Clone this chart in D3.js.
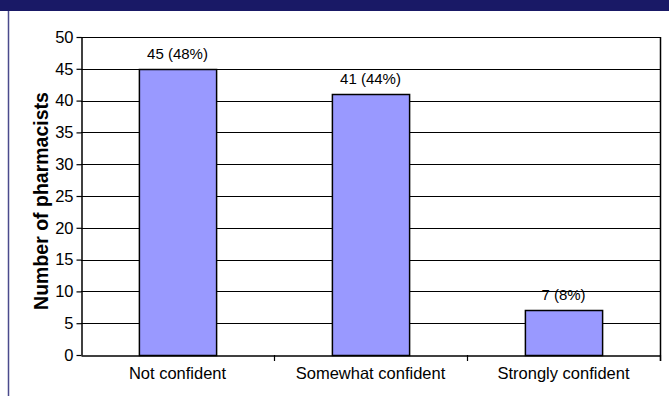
<!DOCTYPE html>
<html>
<head>
<meta charset="utf-8">
<script src="https://cdn.jsdelivr.net/npm/d3@7"></script>
<style>
  html, body { margin: 0; padding: 0; background: #fff; }
  svg { display: block; font-family: Arial, "Liberation Sans", sans-serif; }
</style>
</head>
<body>
<svg id="chart" width="669" height="396"></svg>
<script>
// Confidence levels reported by pharmacists
const categories = ["Not confident", "Somewhat confident", "Strongly confident"];
const counts = [45, 41, 7];
const percents = ["48%", "44%", "8%"];
const yTicks = [0, 5, 10, 15, 20, 25, 30, 35, 40, 45, 50];
const yTitle = "Number of pharmacists";

const svg = d3.select("#chart");
const W = 669, H = 396;
const plot = { left: 81, right: 660, top: 37, bottom: 355 };
const FONT = "Arial, 'Liberation Sans', sans-serif";

// Header banner and left frame line
svg.append("rect").attr("x", 0).attr("y", 0).attr("width", W).attr("height", 11)
  .attr("fill", "#191966");
svg.append("line").attr("x1", 8.5).attr("x2", 8.5).attr("y1", 11).attr("y2", H)
  .attr("stroke", "#4a4a8c").attr("stroke-width", 1.5);

const x = d3.scaleBand().domain(categories).range([plot.left, plot.right])
  .paddingInner(0.6).paddingOuter(0.3);
const xOuter = d3.scaleBand().domain(categories).range([plot.left, plot.right]);
const y = d3.scaleLinear().domain([0, 50]).range([plot.bottom, plot.top]);

// Horizontal gridlines
svg.append("g").selectAll("line").data(yTicks.filter(d => d > 0)).join("line")
  .attr("x1", plot.left).attr("x2", plot.right)
  .attr("y1", d => Math.round(y(d)) + 0.5).attr("y2", d => Math.round(y(d)) + 0.5)
  .attr("stroke", "#000").attr("stroke-width", 1);

// Right border
svg.append("line").attr("x1", plot.right + 0.5).attr("x2", plot.right + 0.5)
  .attr("y1", plot.top).attr("y2", plot.bottom + 6)
  .attr("stroke", "#000").attr("stroke-width", 1.5);

// Bars
svg.append("g").selectAll("rect").data(categories).join("rect")
  .attr("x", d => x(d) + 0.5)
  .attr("y", (d, i) => Math.round(y(counts[i])) + 0.5)
  .attr("width", x.bandwidth())
  .attr("height", (d, i) => Math.round(y(0)) - Math.round(y(counts[i])))
  .attr("fill", "#9999ff").attr("stroke", "#000").attr("stroke-width", 1.5);

// Value labels
svg.append("g").selectAll("text").data(categories).join("text")
  .attr("x", d => x(d) + x.bandwidth() / 2)
  .attr("y", (d, i) => y(counts[i]) - 10)
  .attr("text-anchor", "middle").attr("font-size", 15).attr("fill", "#000")
  .attr("font-family", FONT)
  .text((d, i) => `${counts[i]} (${percents[i]})`);

// Y axis
const yAxis = svg.append("g").attr("transform", `translate(${plot.left + 0.5},0)`)
  .call(d3.axisLeft(y).tickValues(yTicks).tickSize(5).tickPadding(3).tickSizeOuter(0));
yAxis.select(".domain").attr("stroke", "#000").attr("stroke-width", 1.5);
yAxis.selectAll(".tick line").attr("stroke", "#000").attr("stroke-width", 1.2);
yAxis.selectAll(".tick text").attr("font-size", 16.5).attr("fill", "#000")
  .attr("font-family", FONT);

// X axis
const xAxis = svg.append("g").attr("transform", `translate(0,${Math.round(plot.bottom) + 0.5})`)
  .call(d3.axisBottom(xOuter).tickSize(0).tickPadding(12).tickSizeOuter(0));
xAxis.select(".domain").attr("stroke", "#000").attr("stroke-width", 1.5);
xAxis.selectAll(".tick text").attr("font-size", 16.5).attr("fill", "#000")
  .attr("font-family", FONT);
// Category separator ticks
svg.append("g").selectAll("line").data(categories).join("line")
  .attr("x1", d => Math.round(xOuter(d) + xOuter.bandwidth()) + 0.5)
  .attr("x2", d => Math.round(xOuter(d) + xOuter.bandwidth()) + 0.5)
  .attr("y1", plot.bottom).attr("y2", plot.bottom + 6)
  .attr("stroke", "#000").attr("stroke-width", 1.2);

// Y axis title
svg.append("text")
  .attr("transform", `translate(41,${(plot.top + plot.bottom) / 2 + 5}) rotate(-90)`)
  .attr("text-anchor", "middle").attr("dominant-baseline", "central")
  .attr("font-size", 19.5).attr("font-weight", "bold").attr("fill", "#000")
  .attr("font-family", FONT)
  .text(yTitle);
</script>
</body>
</html>
